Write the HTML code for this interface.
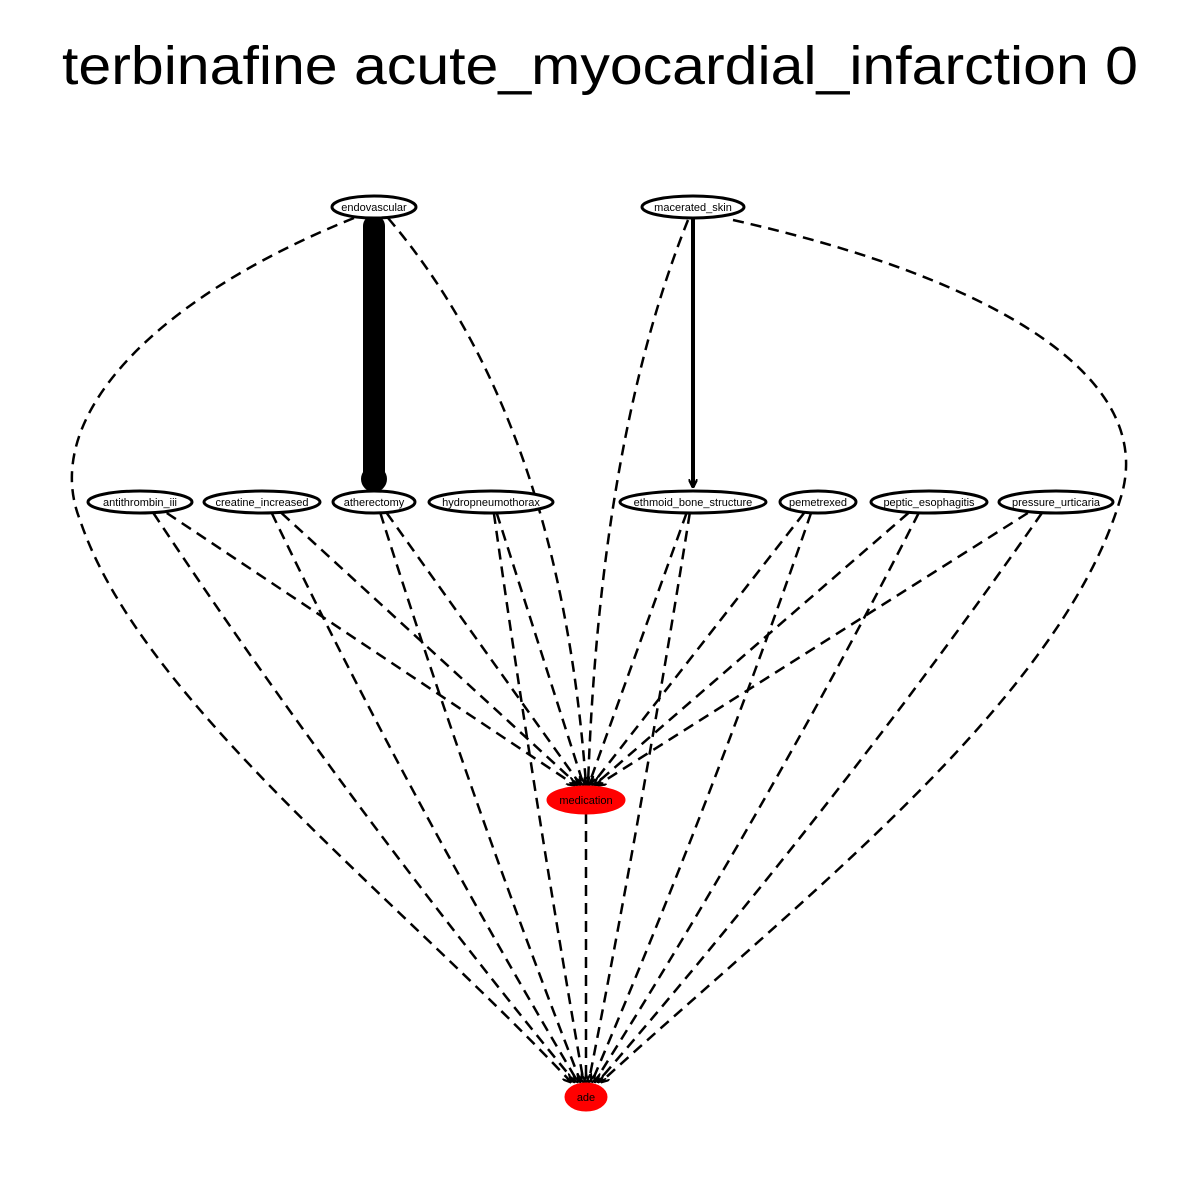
<!DOCTYPE html>
<html><head><meta charset="utf-8"><style>
body{margin:0;background:#fff}
svg{display:block;font-family:"Liberation Sans",Arial,sans-serif}
</style></head><body>
<svg id="g" width="1200" height="1200" viewBox="0 0 1200 1200">
<defs>
<marker id="arr" viewBox="0 0 10 10" refX="9" refY="5" markerWidth="9" markerHeight="9" orient="auto" markerUnits="userSpaceOnUse">
<path d="M0,0 L10,5 L0,10" fill="none" stroke="#000" stroke-width="2.5"/>
</marker>
</defs>
<text x="600" y="84" text-anchor="middle" font-size="54" textLength="1076" lengthAdjust="spacingAndGlyphs">terbinafine acute_myocardial_infarction 0</text>
<g id="edges"></g>
<g id="nodes"></g>
</svg>
<script>
const nodeNames=["endovascular","macerated_skin","antithrombin_iii","creatine_increased","atherectomy","hydropneumothorax","ethmoid_bone_structure","pemetrexed","peptic_esophagitis","pressure_urticaria","medication","ade"];
const nodeX=[374,693,140,262,374,491,693,818,929,1056,586,586];
const nodeY=[207,207,502,502,502,502,502,502,502,502,800,1097];
const nodeRx=[42,51,52,58,41,62,73,38,58,57,38,20];
const nodeFill=["#fff","#fff","#fff","#fff","#fff","#fff","#fff","#fff","#fff","#fff","#f00","#f00"];
// edges: from, to, width, dashed
const edgeFrom=[0,1,0,0,1,1,2,2,3,3,4,4,5,5,6,6,7,7,8,8,9,9,10];
const edgeTo  =[4,6,10,11,10,11,10,11,10,11,10,11,10,11,10,11,10,11,10,11,10,11,11];
const edgeW   =[22,4,2.5,2.5,2.5,2.5,2.5,2.5,2.5,2.5,2.5,2.5,2.5,2.5,2.5,2.5,2.5,2.5,2.5,2.5,2.5,2.5,2.5];
const edgeDash=[0,0,1,1,1,1,1,1,1,1,1,1,1,1,1,1,1,1,1,1,1,1,1];
const NS="http://www.w3.org/2000/svg";
const eg=document.getElementById('edges'),ng=document.getElementById('nodes');
const ry=i=>(i>=10?13:11);
for(let k=0;k<edgeFrom.length;k++){
  const a=edgeFrom[k],b=edgeTo[k];
  let x1=nodeX[a],y1=nodeY[a]+ry(a),x2=nodeX[b],y2=nodeY[b]-ry(b)-2;
  let d;
  if(a===0&&b===11){d=`M${x1-20},${y1} C150,300 40,420 80,520 C140,700 400,900 ${x2-15},${y2}`;}
  else if(a===1&&b===11){d=`M${x1+40},${y1+2} C1000,280 1160,380 1120,500 C1060,700 800,900 ${x2+15},${y2}`;}
  else if(a===0&&b===10){d=`M${x1+14},${y1} Q560,420 ${x2},${y2}`;}
  else if(a===1&&b===10){d=`M${x1-5},${y1+2} Q600,440 ${x2+2},${y2}`;}
  else if(edgeW[k]>2.5&&edgeW[k]<10){d=`M${x1},${y1} L${x2},${y2-2}`;}
  else if(edgeW[k]>=10){d=`M${x1},${y1+8} L${x2},${y2-12}`;}
  else{
    const off=(x1-x2)*0.025;
    const sx=x1+(b===10?(x2-x1)*0.06:(x2-x1)*0.03);
    const ex=x2+off, ey=y2;
    const mx=(sx+ex)/2+(b===11&&a!==10?(x1-x2)*0.05:0), my=(y1+ey)/2;
    d=`M${sx},${y1} Q${mx},${my} ${ex},${ey}`;
  }
  const p=document.createElementNS(NS,'path');
  p.setAttribute('d',d);p.setAttribute('fill','none');p.setAttribute('stroke','#000');
  p.setAttribute('stroke-width',edgeW[k]);
  if(edgeDash[k])p.setAttribute('stroke-dasharray','11,7');
  if(edgeW[k]>=10){p.setAttribute('stroke-linecap','round');}
  else p.setAttribute('marker-end','url(#arr)');
  
  
  eg.appendChild(p);
  if(edgeW[k]>=10){
    const c=document.createElementNS(NS,'ellipse');
    c.setAttribute('cx',x2);c.setAttribute('cy',y2-10);c.setAttribute('rx',13);c.setAttribute('ry',13);
    
    
    eg.appendChild(c);
  }
}
for(let i=0;i<nodeNames.length;i++){
  const g=document.createElementNS(NS,'g');
  
  
  const e=document.createElementNS(NS,'ellipse');
  e.setAttribute('cx',nodeX[i]);e.setAttribute('cy',nodeY[i]);e.setAttribute('rx',nodeRx[i]);e.setAttribute('ry',ry(i));
  e.setAttribute('fill',nodeFill[i]);
  e.setAttribute('stroke',i>=10?'#f00':'#000');e.setAttribute('stroke-width',3);
  g.appendChild(e);
  const t=document.createElementNS(NS,'text');
  t.setAttribute('x',nodeX[i]);t.setAttribute('y',nodeY[i]+4);t.setAttribute('text-anchor','middle');
  t.setAttribute('font-size','11');t.textContent=nodeNames[i];
  g.appendChild(t);
  ng.appendChild(g);
}
</script>
</body></html>
